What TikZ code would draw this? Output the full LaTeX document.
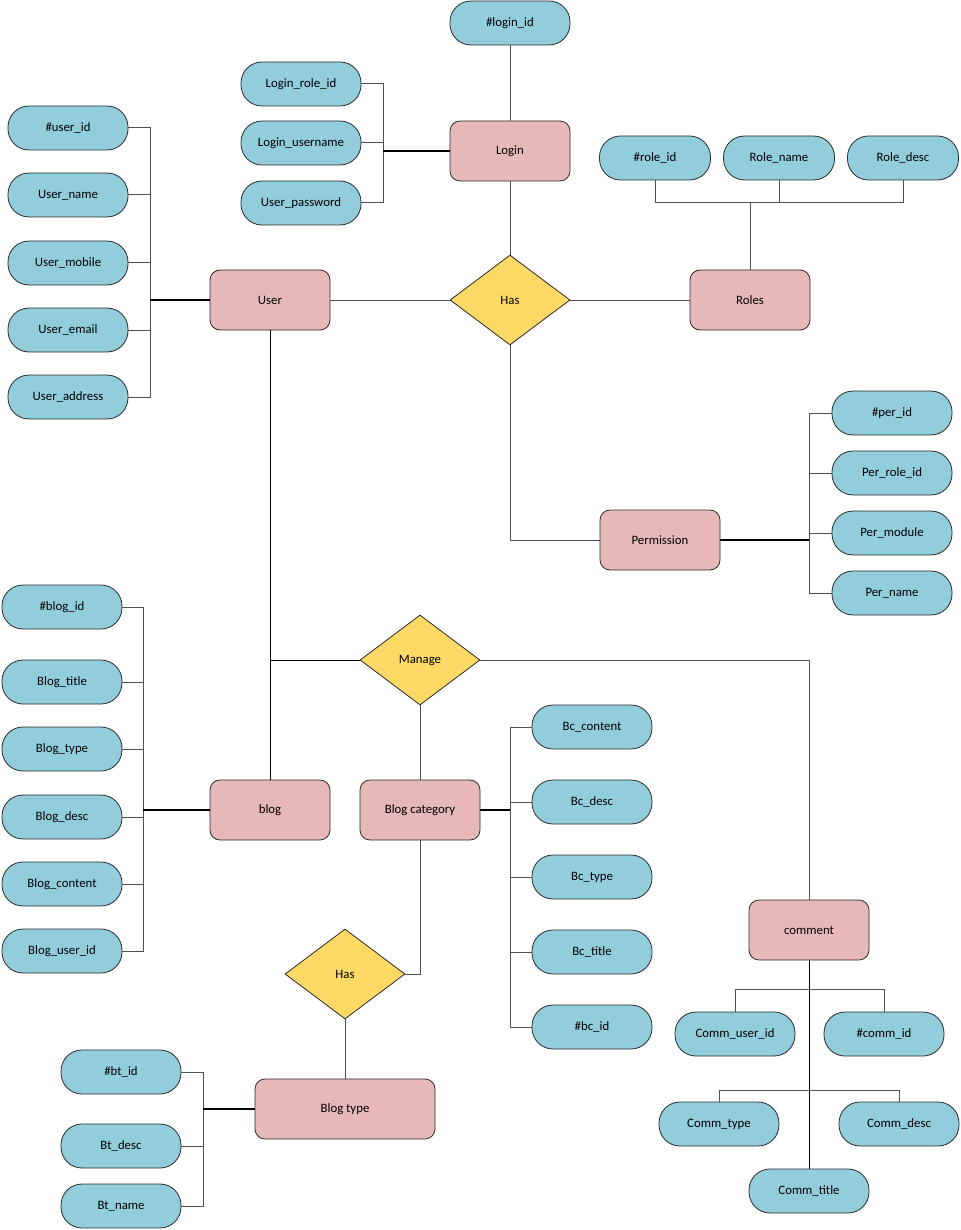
\documentclass[tikz,border=0pt]{standalone}
\usepackage{fontspec}
\setmainfont{Carlito}
\usetikzlibrary{shapes.geometric}
\definecolor{attrfill}{HTML}{92CDDC}
\definecolor{entfill}{HTML}{E6B8B7}
\definecolor{relfill}{HTML}{FFD966}
\definecolor{edgecol}{HTML}{2B2B2B}
\definecolor{wirecol}{HTML}{505050}
\begin{document}
\begin{tikzpicture}[x=1pt,y=-1pt,
  font=\fontsize{12.8}{15}\selectfont,
  attr/.style={draw=edgecol,fill=attrfill,rectangle,rounded corners=21pt,
    minimum width=120pt,minimum height=44pt,inner sep=0pt,line width=0.8pt},
  sattr/.style={attr,minimum width=111pt},
  ent/.style={draw=edgecol,fill=entfill,rectangle,rounded corners=10pt,
    minimum width=120pt,minimum height=60pt,inner sep=0pt,line width=0.8pt},
  rel/.style={draw=edgecol,fill=relfill,diamond,aspect=1.333,
    minimum width=120pt,minimum height=90pt,inner sep=0pt,line width=0.8pt},
  wire/.style={draw=wirecol,line width=1pt},
  trunk/.style={draw=black,line width=1.5pt}]
\useasboundingbox (0,0) rectangle (960,1230);

% ---------- entities ----------
\node[ent] (user) at (270,300) {User};
\node[ent] (login) at (510,151) {Login};
\node[ent] (roles) at (750,300) {Roles};
\node[ent] (perm) at (660,540) {Permission};
\node[ent] (blog) at (270,810) {blog};
\node[ent] (bcat) at (420,810) {Blog category};
\node[ent,minimum width=180pt] (btype) at (345,1109) {Blog type};
\node[ent] (comment) at (809,930) {comment};

% ---------- relationships ----------
\node[rel] (has) at (510,300) {Has};
\node[rel] (manage) at (420,660) {Manage};
\node[rel] (has2) at (345,974) {Has};

% ---------- attributes ----------
\node[attr] (loginid) at (510,23) {\#login\_id};
\node[attr] (lroleid) at (301,84) {Login\_role\_id};
\node[attr] (luser) at (301,143) {Login\_username};
\node[attr] (lpass) at (301,203) {User\_password};

\node[attr] (ua1) at (68,128) {\#user\_id};
\node[attr] (ua2) at (68,195) {User\_name};
\node[attr] (ua3) at (68,263) {User\_mobile};
\node[attr] (ua4) at (68,330) {User\_email};
\node[attr] (ua5) at (68,397) {User\_address};

\node[sattr] (ra1) at (655,158) {\#role\_id};
\node[sattr] (ra2) at (779,158) {Role\_name};
\node[sattr] (ra3) at (903,158) {Role\_desc};

\node[attr] (pa1) at (892,413) {\#per\_id};
\node[attr] (pa2) at (892,473) {Per\_role\_id};
\node[attr] (pa3) at (892,533) {Per\_module};
\node[attr] (pa4) at (892,593) {Per\_name};

\node[attr] (ba1) at (62,607) {\#blog\_id};
\node[attr] (ba2) at (62,682) {Blog\_title};
\node[attr] (ba3) at (62,749) {Blog\_type};
\node[attr] (ba4) at (62,817) {Blog\_desc};
\node[attr] (ba5) at (62,884) {Blog\_content};
\node[attr] (ba6) at (62,951) {Blog\_user\_id};

\node[attr] (bc1) at (592,727) {Bc\_content};
\node[attr] (bc2) at (592,802) {Bc\_desc};
\node[attr] (bc3) at (592,877) {Bc\_type};
\node[attr] (bc4) at (592,952) {Bc\_title};
\node[attr] (bc5) at (592,1027) {\#bc\_id};

\node[attr] (bt1) at (121,1072) {\#bt\_id};
\node[attr] (bt2) at (121,1146) {Bt\_desc};
\node[attr] (bt3) at (121,1206) {Bt\_name};

\node[attr] (cm1) at (735,1034) {Comm\_user\_id};
\node[attr] (cm2) at (884,1034) {\#comm\_id};
\node[attr] (cm3) at (719,1124) {Comm\_type};
\node[attr] (cm4) at (899,1124) {Comm\_desc};
\node[attr] (cm5) at (809,1191) {Comm\_title};

% ---------- bus points ----------
\coordinate (ubus) at (150,300);
\coordinate (lbus) at (383,151);
\coordinate (rbus) at (750,203);
\coordinate (pbus) at (809,540);
\coordinate (mjoin) at (270,660);
\coordinate (bbus) at (143,810);
\coordinate (cbus) at (510,810);
\coordinate (tbus) at (203,1109);
\coordinate (cmbus1) at (809,989);
\coordinate (cmbus2) at (809,1090);

% ---------- attribute wiring ----------
\foreach \a in {ua1,ua2,ua3,ua4,ua5} \draw[wire] (\a.east) -| (ubus);
\draw[trunk] (user.west) -- (ubus);

\foreach \a in {lroleid,luser,lpass} \draw[wire] (\a.east) -| (lbus);
\draw[trunk] (login.west) -- (lbus);
\draw[wire] (loginid.south) -- (login.north);

\foreach \a in {ra1,ra2,ra3} \draw[wire] (\a.south) |- (rbus);
\draw[wire] (roles.north) -- (rbus);

\foreach \a in {pa1,pa2,pa3,pa4} \draw[wire] (\a.west) -| (pbus);
\draw[trunk] (perm.east) -- (pbus);

\foreach \a in {ba1,ba2,ba3,ba4,ba5,ba6} \draw[wire] (\a.east) -| (bbus);
\draw[trunk] (blog.west) -- (bbus);

\foreach \a in {bc1,bc2,bc3,bc4,bc5} \draw[wire] (\a.west) -| (cbus);
\draw[trunk] (bcat.east) -- (cbus);

\foreach \a in {bt1,bt2,bt3} \draw[wire] (\a.east) -| (tbus);
\draw[trunk] (btype.west) -- (tbus);

\draw[wire] (cm1.north) |- (cmbus1);
\draw[wire] (cm2.north) |- (cmbus1);
\draw[wire] (cm3.north) |- (cmbus2);
\draw[wire] (cm4.north) |- (cmbus2);
\draw[wire,draw=black] (comment.south) -- (cm5.north);

% ---------- relationship wiring ----------
\draw[wire] (login.south) -- (has.north);
\draw[wire] (user.east) -- (has.west);
\draw[wire] (has.east) -- (roles.west);
\draw[wire] (has.south) |- (perm.west);

\draw[wire,draw=black] (user.south) -- (blog.north);
\draw[wire,draw=black] (manage.west) -- (mjoin);
\draw[wire] (manage.east) -| (comment.north);
\draw[wire] (manage.south) -- (bcat.north);

\draw[wire] (bcat.south) |- (has2.east);
\draw[wire] (has2.south) -- (btype.north);
\end{tikzpicture}
\end{document}
